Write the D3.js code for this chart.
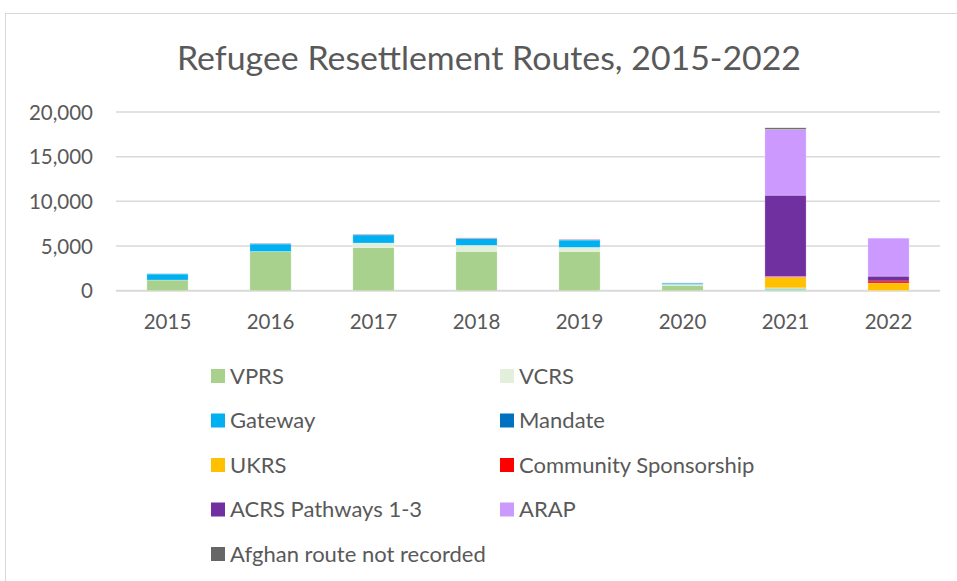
<!DOCTYPE html>
<html><head><meta charset="utf-8">
<script src="https://cdn.jsdelivr.net/npm/d3@7"></script>
<style>body{margin:0;background:#fff}svg{display:block}text{font-family:Lato,"Open Sans",sans-serif;fill:#595959}</style>
</head><body>
<svg id="c" width="957" height="581"></svg>
<script>
const years = ["2015","2016","2017","2018","2019","2020","2021","2022"];
const seriesNames = ["VPRS","VCRS","Gateway","Mandate","UKRS","Community Sponsorship","ACRS Pathways 1-3","ARAP","Afghan route not recorded"];
const seriesColors = ["#A9D18E","#E2EFDA","#00B0F0","#0070C0","#FFC000","#FF0000","#7030A0","#CC99FF","#666666"];
const VPRS      = [1194,4369,4832,4407,4400,600,200,0];
const VCRS      = [0,10,500,670,450,100,50,0];
const Gateway   = [670,850,920,760,820,150,50,0];
const Mandate   = [30,60,50,40,40,10,20,10];
const UKRS      = [0,0,0,0,0,0,1170,850];
const Community = [0,10,20,30,30,10,100,230];
const ACRS      = [0,0,0,0,0,0,9100,540];
const ARAP      = [0,0,0,0,0,0,7350,4250];
const Afghan    = [0,0,0,0,0,0,190,0];
const yTicks = [0,5000,10000,15000,20000];

const seriesValues = [VPRS,VCRS,Gateway,Mandate,UKRS,Community,ACRS,ARAP,Afghan];
const table = years.map((y,i)=>{const r={year:y};seriesNames.forEach((n,j)=>r[n]=seriesValues[j][i]);return r;});
const stack = d3.stack().keys(seriesNames)(table);

const svg = d3.select("#c");
svg.append("rect").attr("x",5.5).attr("y",13.5).attr("width",1000).attr("height",1000)
  .attr("fill","#fff").attr("stroke","#d9d9d9").attr("stroke-width",1);

svg.append("text").attr("x",489).attr("y",70).attr("text-anchor","middle")
  .attr("textLength",624).attr("lengthAdjust","spacingAndGlyphs")
  .style("font-size","33px").text("Refugee Resettlement Routes, 2015-2022");

const x = d3.scaleBand().domain(years).range([116,940]).paddingInner(0.6).paddingOuter(0.3);
const y = d3.scaleLinear().domain([0,20000]).range([290.7,112]);

// gridlines
svg.append("g").selectAll("line").data(yTicks).join("line")
  .attr("x1",116).attr("x2",940).attr("y1",d=>y(d)).attr("y2",d=>y(d))
  .attr("stroke","#d9d9d9").attr("stroke-width",d=>d===0?2:1.5);

// y axis
const yAxis = d3.axisLeft(y).tickValues(yTicks).tickFormat(d3.format(",")).tickSize(0).tickPadding(0);
const gy = svg.append("g").attr("transform","translate(93,0)").call(yAxis);
gy.select(".domain").remove();
gy.selectAll("text").style("font-size","20.5px").attr("fill","#595959").attr("dy","0.35em");

// bars
svg.append("g").selectAll("g").data(stack).join("g")
  .attr("fill",(d,i)=>seriesColors[i])
  .selectAll("rect").data(d=>d).join("rect")
  .attr("x",d=>x(d.data.year)).attr("width",x.bandwidth())
  .attr("y",d=>y(d[1])).attr("height",d=>Math.max(0,y(d[0])-y(d[1])))
  .attr("stroke","#ffffff").attr("stroke-opacity",0.35).attr("stroke-width",0.75);

// x axis
const xAxis = d3.axisBottom(x).tickSize(0).tickPadding(0);
const gx = svg.append("g").attr("transform","translate(0,314)").call(xAxis);
gx.select(".domain").remove();
gx.selectAll("text").style("font-size","20.5px").attr("fill","#595959").attr("dy","0.71em");

// legend
const legCols = [211,500];
const legRows = [376,420.5,465,509.5,554];
const lg = svg.append("g").selectAll("g").data(seriesNames).join("g")
  .attr("transform",(d,i)=>`translate(${legCols[i%2]},${legRows[Math.floor(i/2)]})`);
lg.append("rect").attr("x",0).attr("y",-7).attr("width",14).attr("height",14)
  .attr("fill",(d,i)=>seriesColors[i]);
lg.append("text").attr("x",19).attr("y",0).attr("dy","0.35em").style("font-size","22px").text(d=>d);
</script>
</body></html>
